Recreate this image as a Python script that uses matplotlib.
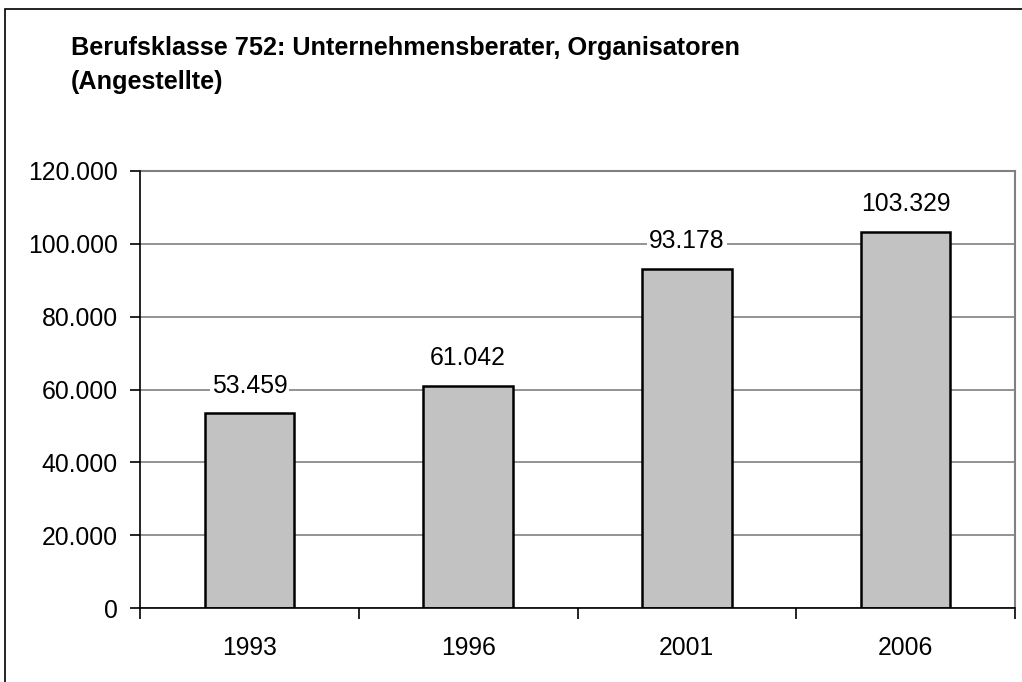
import numpy as np
from matplotlib import pyplot as plt
from matplotlib.ticker import FuncFormatter, FixedLocator
from matplotlib.patches import Rectangle

plt.rcParams['font.family'] = ['Liberation Sans', 'DejaVu Sans']

years = ['1993', '1996', '2001', '2006']
employees = [53459, 61042, 93178, 103329]
y_ticks = [0, 20000, 40000, 60000, 80000, 100000, 120000]

def de_thousands(v, pos=None):
    return f"{int(round(v)):,}".replace(',', '.')

fig = plt.figure(figsize=(10.22, 6.82), dpi=100)
# outer chart frame (Excel style)
fig.patches.append(Rectangle((5/1022, -0.05), 1.2, 1 - 9/682 + 0.05, transform=fig.transFigure,
                             fill=False, edgecolor='black', linewidth=1.2))

ax = fig.add_axes([140/1022, 1 - 608/682, 875/1022, 437/682])
x = np.arange(len(years))
bars = ax.bar(x, employees, width=0.41, color='#c2c2c2', edgecolor='black', linewidth=1.8, zorder=3)

ax.set_xlim(-0.5, len(years) - 0.5)
ax.set_ylim(0, 120000)
ax.set_yticks(y_ticks)
ax.yaxis.set_major_formatter(FuncFormatter(de_thousands))
ax.set_xticks(x)
ax.set_xticklabels(years)
ax.xaxis.set_minor_locator(FixedLocator(np.arange(-0.5, len(years), 1)))
ax.tick_params(axis='x', which='major', length=0, pad=20, labelsize=17.8)
ax.tick_params(axis='x', which='minor', length=8, width=1.2, direction='out')
ax.tick_params(axis='y', length=7, width=1.2, direction='out', pad=9, labelsize=17.8)

ax.grid(axis='y', color='#808080', linewidth=1.2, zorder=0)
for s in ['top', 'right']:
    ax.spines[s].set_color('#808080')
    ax.spines[s].set_linewidth(1.5)
for s in ['left', 'bottom']:
    ax.spines[s].set_linewidth(1.2)
    ax.spines[s].set_zorder(4)

for xi, v in zip(x, employees):
    ax.annotate(de_thousands(v), (xi, v), xytext=(0, 11), textcoords='offset points',
                ha='center', va='bottom', fontsize=17.8, zorder=5,
                bbox=dict(facecolor='white', edgecolor='none', pad=1.5))

fig.text(71/1022, 1 - 55/682, 'Berufsklasse 752: Unternehmensberater, Organisatoren',
         fontsize=18.2, fontweight='bold', ha='left', va='baseline')
fig.text(71/1022, 1 - 89/682, '(Angestellte)',
         fontsize=18.2, fontweight='bold', ha='left', va='baseline')

fig.savefig('out.png', dpi=100)
